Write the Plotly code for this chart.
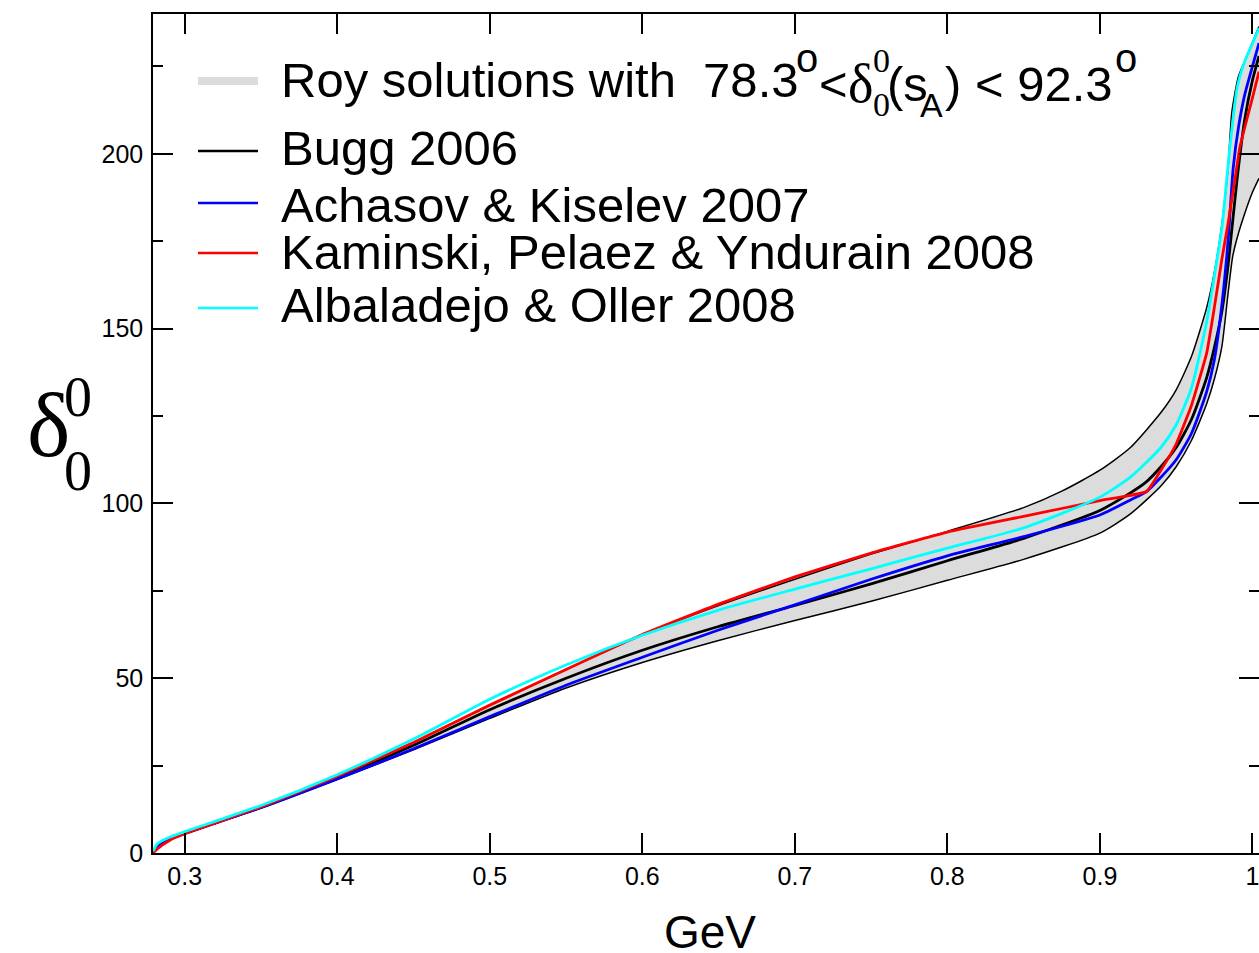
import plotly.graph_objects as go

# ---------------- data ----------------
upper_x = [0.2792, 0.282, 0.29, 0.30, 0.35, 0.40, 0.45, 0.50, 0.55, 0.60, 0.65, 0.70, 0.75, 0.80,
           0.85, 0.875, 0.90, 0.92, 0.94, 0.95, 0.96, 0.97, 0.975, 0.98, 0.984,
           0.9864, 0.9907, 0.9962, 1.0043]
upper_y = [0.0, 2.2, 4.2, 6.0, 13.3, 22.0, 31.6, 42.3, 52.5, 62.5, 70.8, 78.3, 85.5, 92.0,
           98.8, 103.5, 109.5, 116.0, 126.0, 132.5, 142.0, 156.0, 166.0, 180.0, 196.0,
           211.6, 222.0, 227.8, 236.4]

lower_x = [0.2792, 0.282, 0.29, 0.30, 0.35, 0.40, 0.45, 0.50, 0.55, 0.60, 0.65, 0.70, 0.75, 0.80,
           0.85, 0.90, 0.92, 0.94, 0.95, 0.96, 0.97, 0.975, 0.98, 0.984, 0.987, 0.99, 0.995,
           1.0, 1.0043]
lower_y = [0.0, 1.8, 3.8, 5.5, 12.8, 21.0, 29.5, 38.5, 47.2, 54.5, 60.8, 66.5, 72.0, 78.0,
           84.0, 91.5, 97.0, 105.0, 110.5, 118.0, 128.5, 135.5, 145.0, 160.0, 170.5, 176.0, 183.0,
           189.0, 193.0]

bugg_x = [0.2792, 0.282, 0.29, 0.30, 0.35, 0.40, 0.45, 0.50, 0.55, 0.60, 0.65, 0.70, 0.75, 0.80,
          0.85, 0.90, 0.92, 0.93, 0.94, 0.95, 0.96, 0.97, 0.975, 0.98, 0.984, 0.9864,
          0.99, 0.995, 1.0, 1.0043]
bugg_y = [0.0, 2.0, 4.0, 5.7, 13.2, 21.5, 30.8, 41.0, 50.0, 58.0, 64.8, 70.8, 77.0, 83.6,
          90.0, 98.0, 103.0, 106.0, 110.5, 116.0, 124.0, 136.0, 144.5, 155.0, 168.0, 178.0,
          193.0, 210.0, 221.0, 228.0]

achasov_x = [0.2792, 0.282, 0.29, 0.30, 0.35, 0.40, 0.45, 0.50, 0.55, 0.60, 0.65, 0.70, 0.75,
             0.80, 0.85, 0.90, 0.92, 0.93, 0.94, 0.95, 0.96, 0.97, 0.975, 0.98, 0.984, 0.9874,
             0.991, 0.995, 1.0, 1.0043]
achasov_y = [0.0, 1.8, 3.9, 5.6, 13.0, 21.2, 29.8, 39.0, 48.0, 56.0, 63.8, 71.0, 78.3,
             85.0, 90.5, 96.7, 101.0, 103.2, 107.5, 112.5, 120.0, 132.0, 141.0, 157.0, 175.0, 196.0,
             208.0, 217.0, 225.0, 231.7]

kaminski_x = [0.2792, 0.282, 0.29, 0.30, 0.35, 0.40, 0.45, 0.50, 0.55, 0.60, 0.65, 0.70, 0.75,
              0.80, 0.85, 0.90, 0.9306, 0.94, 0.95, 0.96, 0.97, 0.975, 0.98, 0.984, 0.9885,
              0.9918, 1.0, 1.0043]
kaminski_y = [0.0, 1.2, 3.6, 5.5, 13.2, 22.0, 31.6, 42.3, 52.5, 62.5, 71.2, 79.0, 85.8,
              91.8, 96.3, 100.8, 103.4, 109.5, 117.0, 128.0, 143.0, 156.0, 170.0, 180.0, 192.6,
              202.0, 216.0, 223.5]

albaladejo_x = [0.2792, 0.282, 0.29, 0.30, 0.35, 0.40, 0.45, 0.50, 0.55, 0.60, 0.65, 0.70, 0.75,
                0.80, 0.85, 0.90, 0.92, 0.94, 0.95, 0.96, 0.97, 0.975, 0.98, 0.985, 0.99, 0.995,
                1.0, 1.0043]
albaladejo_y = [0.5, 2.6, 4.5, 6.1, 13.6, 22.4, 32.6, 44.0, 53.8, 62.3, 69.5, 75.5, 81.3,
                87.2, 93.0, 101.8, 107.5, 116.0, 122.5, 133.0, 152.0, 165.0, 179.0, 201.0, 219.0,
                226.5, 231.5, 236.0]

series_names = ["Bugg 2006", "Achasov & Kiselev 2007", "Kaminski, Pelaez & Yndurain 2008",
                "Albaladejo & Oller 2008"]
series_colors = ["#000000", "#0000ff", "#ff0000", "#00ffff"]

x_tickvals = [0.3, 0.4, 0.5, 0.6, 0.7, 0.8, 0.9, 1.0]
x_ticktext = ["0.3", "0.4", "0.5", "0.6", "0.7", "0.8", "0.9", "1"]
y_tickvals = [0, 50, 100, 150, 200]
y_ticktext = ["0", "50", "100", "150", "200"]

# ---------------- figure ----------------
W, H = 1259, 953
ML, MR, MT, MB = 153, 0, 14, 100
SANS = "Liberation Sans, Arial, Helvetica, sans-serif"
SERIF = "Liberation Serif, Times New Roman, serif"


def pxx(xp):
    return (xp - ML) / (W - ML - MR)


def pxy(yp):
    return (H - MB - yp) / (H - MT - MB)


fig = go.Figure()

# grey band
fig.add_trace(go.Scatter(
    x=upper_x + lower_x[::-1], y=upper_y + lower_y[::-1],
    fill="toself", fillcolor="#dcdcdc", mode="lines",
    line=dict(width=0, shape="spline", smoothing=0.6), hoverinfo="skip", showlegend=False))
for bx, by in ((upper_x, upper_y), (lower_x, lower_y)):
    fig.add_trace(go.Scatter(x=bx, y=by, mode="lines",
                             line=dict(color="black", width=1.5, shape="spline", smoothing=0.6),
                             showlegend=False))

series = [(bugg_x, bugg_y), (achasov_x, achasov_y), (kaminski_x, kaminski_y),
          (albaladejo_x, albaladejo_y)]
smooth = [0.6, 0.6, 0.35, 0.6]
for (sx, sy), name, col, sm in zip(series, series_names, series_colors, smooth):
    fig.add_trace(go.Scatter(x=sx, y=sy, mode="lines", name=name,
                             line=dict(color=col, width=2.8, shape="spline", smoothing=sm),
                             showlegend=False))

axis_common = dict(showline=True, linecolor="black", linewidth=1.5, mirror="ticks",
                   ticks="inside", tickcolor="black", tickwidth=1.5, ticklen=20,
                   showgrid=False, zeroline=False, automargin=False,
                   ticklabeloverflow="allow",
                   tickfont=dict(family=SANS, size=25, color="black"))

fig.update_xaxes(range=[0.2792, 1.0043], tickvals=x_tickvals, ticktext=x_ticktext,
                 ticklabelstandoff=0, **axis_common)
fig.update_yaxes(range=[0, 240], tickvals=y_tickvals, ticktext=y_ticktext,
                 ticklabelstandoff=3,
                 minor=dict(tickvals=[25, 75, 125, 175, 225], ticks="inside", ticklen=10,
                            tickcolor="black", tickwidth=1.5, showgrid=False),
                 **axis_common)

ann = []


def add_text(text, xp, yp, size, family=SANS, xanchor="left"):
    ann.append(dict(text=text, x=pxx(xp), y=pxy(yp), xref="paper", yref="paper",
                    xanchor=xanchor, yanchor="middle", showarrow=False,
                    font=dict(family=family, size=size, color="black")))


# axis titles
add_text("GeV", 710, 932, 46, xanchor="center")
add_text("δ", 25, 425, 92, family=SERIF)
add_text("0", 62, 397, 56, family=SERIF)
add_text("0", 62, 471, 56, family=SERIF)

# legend texts
row_y = [80, 148, 205, 252, 305]
add_text("Roy solutions with\u00a0\u00a078.3", 279, row_y[0], 49)
add_text("o", 794, 58, 40)
add_text("<", 817, row_y[0] + 4, 49)
add_text("δ", 846, row_y[0] + 4, 54, family=SERIF)
add_text("0", 871, 61, 34, family=SERIF)
add_text("0", 871, 104, 34, family=SERIF)
add_text("(s", 885, row_y[0] + 4, 49)
add_text("A", 918, 105, 34)
add_text(")\u00a0<\u00a092.3", 943, row_y[0] + 4, 49)
add_text("o", 1113, 58, 40)
for name, yy in zip(series_names, row_y[1:]):
    add_text(name, 279, yy, 49)

shapes = [dict(type="line", xref="paper", yref="paper", x0=pxx(198), x1=pxx(258),
               y0=pxy(81), y1=pxy(81), line=dict(color="#dcdcdc", width=8))]
for col, yy in zip(series_colors, [151, 203, 253, 308]):
    shapes.append(dict(type="line", xref="paper", yref="paper", x0=pxx(198), x1=pxx(258),
                       y0=pxy(yy), y1=pxy(yy), line=dict(color=col, width=2.5)))

fig.update_layout(width=W, height=H, margin=dict(l=ML, r=MR, t=MT, b=MB, pad=0),
                  paper_bgcolor="white", plot_bgcolor="white", showlegend=False,
                  annotations=ann, shapes=shapes)

fig.write_html("out.html")
